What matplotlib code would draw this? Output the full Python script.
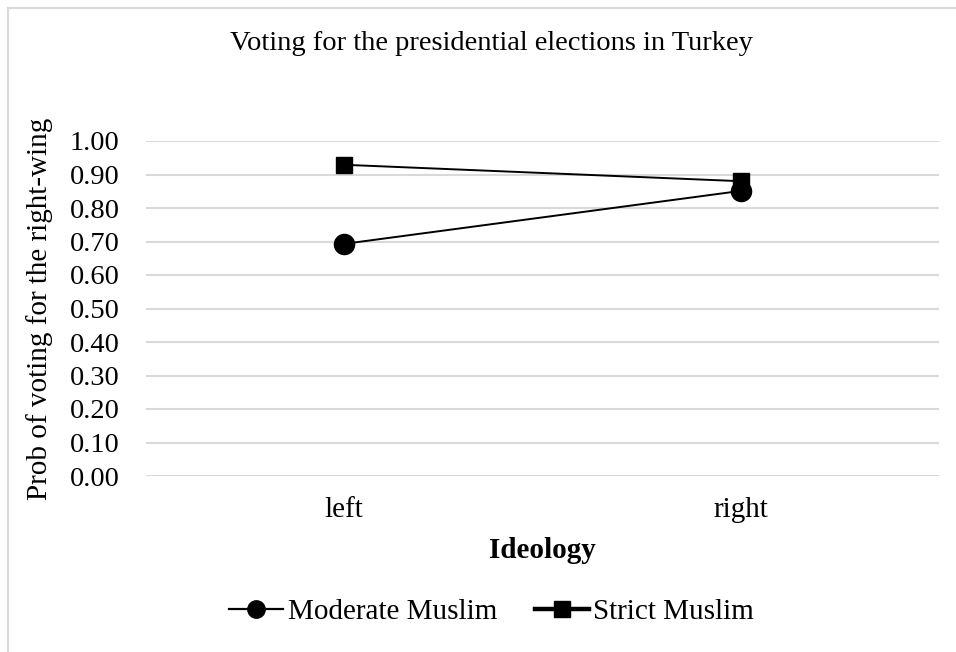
import matplotlib
matplotlib.use("Agg")
import matplotlib.pyplot as plt
from matplotlib.lines import Line2D

categories = ["left", "right"]
moderate = [0.693, 0.851]
strict = [0.929, 0.880]
yticks = [0.0, 0.1, 0.2, 0.3, 0.4, 0.5, 0.6, 0.7, 0.8, 0.9, 1.0]

plt.rcParams['font.family'] = ['Liberation Serif', 'DejaVu Serif']

W, H = 956, 652
fig = plt.figure(figsize=(W/100, H/100), dpi=100)
ax = fig.add_axes([146/W, 1-476/H, (939-146)/W, (476-141)/H])

x = list(range(len(categories)))
ax.plot(x, moderate, color='black', lw=1.4, marker='o', ms=14.5, label='Moderate Muslim', zorder=3)
ax.plot(x, strict, color='black', lw=1.4, marker='s', ms=11, label='Strict Muslim', zorder=3)

ax.set_xlim(-0.5, 1.5)
ax.set_ylim(0, 1.0)
ax.set_yticks(yticks)
ax.set_yticklabels([f"{v:.2f}" for v in yticks], fontsize=20.5)
ax.set_xticks(x)
ax.set_xticklabels(categories, fontsize=21)
ax.tick_params(length=0)
ax.tick_params(axis='y', pad=19)
ax.tick_params(axis='x', pad=15)
ax.grid(axis='y', color='#d9d9d9', lw=1.5)
ax.set_axisbelow(True)
for s in ax.spines.values():
    s.set_visible(False)

ax.set_ylabel("Prob of voting for the right-wing", fontsize=21, labelpad=12)
ax.set_xlabel("Ideology", fontsize=21, fontweight='bold', labelpad=10)
fig.text(491.5/W, 1-50/H, "Voting for the presidential elections in Turkey",
         ha='center', va='baseline', fontsize=20.5)

handles = [
    Line2D([], [], color='black', lw=1.6, marker='o', ms=12.5),
    Line2D([], [], color='black', lw=3.2, marker='s', ms=11.5),
]
fig.legend(handles, ['Moderate Muslim', 'Strict Muslim'], loc='center',
           bbox_to_anchor=(491.5/W, 1-612/H), ncol=2, frameon=False,
           fontsize=21, handlelength=1.85, handletextpad=0.15, columnspacing=1.3,
           borderpad=0, borderaxespad=0)

# outer frame (top and left edges visible)
fig.add_artist(Line2D([7.5/W, 1.0], [1-7.5/H, 1-7.5/H], color='#d9d9d9', lw=1.5, transform=fig.transFigure))
fig.add_artist(Line2D([7.5/W, 7.5/W], [0, 1-7.5/H], color='#d9d9d9', lw=1.5, transform=fig.transFigure))

fig.savefig("out.png", dpi=100)
